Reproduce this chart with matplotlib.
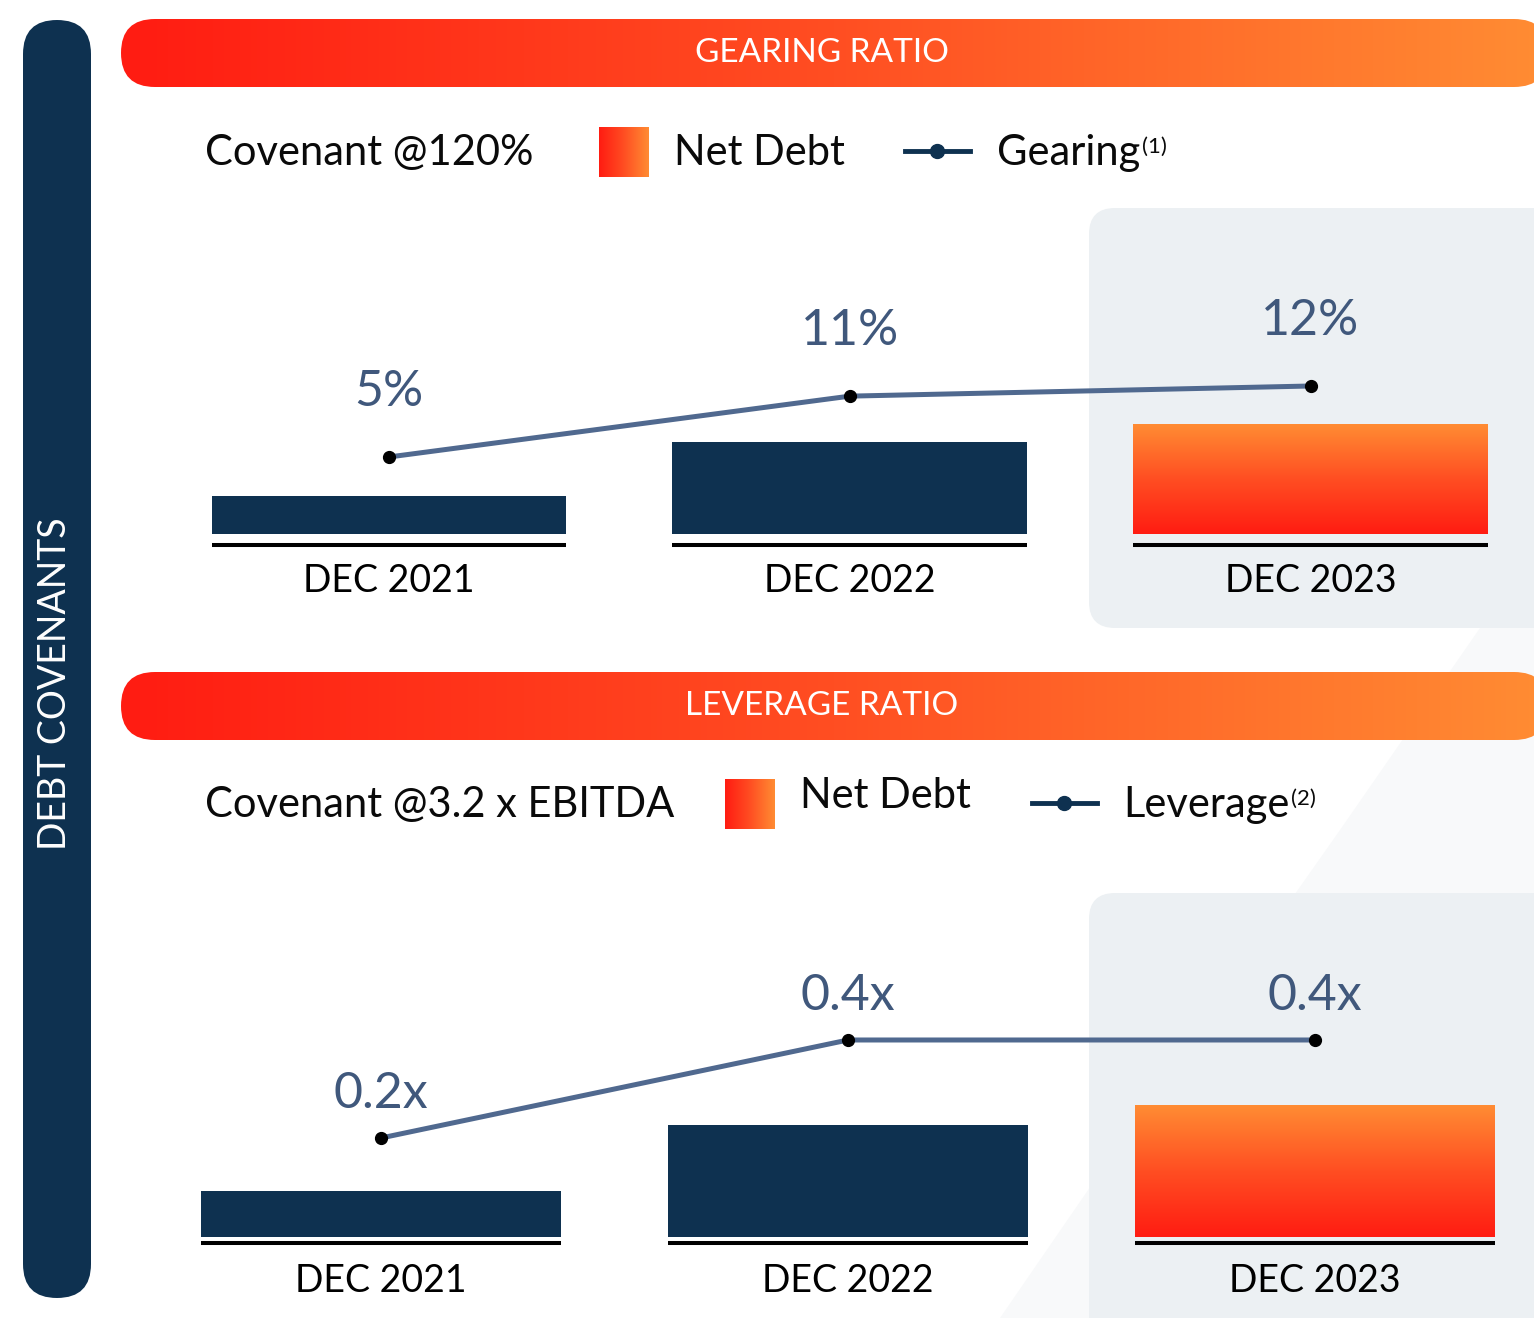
import numpy as np
import matplotlib
matplotlib.use('Agg')
import matplotlib.pyplot as plt
from matplotlib.patches import FancyBboxPatch, Rectangle, Polygon
from matplotlib.colors import LinearSegmentedColormap

plt.rcParams['font.family'] = ['Lato', 'DejaVu Sans']

# data
categories = ['DEC 2021', 'DEC 2022', 'DEC 2023']
gearing_pct = [5, 11, 12]
gearing_labels = ['5%', '11%', '12%']
gearing_net_debt = [38, 92, 110]      # relative bar heights (no scale given)
leverage_x = [0.2, 0.4, 0.4]
leverage_labels = ['0.2x', '0.4x', '0.4x']
leverage_net_debt = [46, 112, 132]    # relative bar heights

W, H = 1534, 1318
NAVY = '#0E3150'
LINE = '#50698F'
LABEL = '#40587C'
GREY = '#ECF0F3'
grad = LinearSegmentedColormap.from_list('grad', ['#FF1C12', '#FF4E22', '#FF8C33'])

fig = plt.figure(figsize=(W / 100, H / 100), dpi=100)
bg = fig.add_axes([0, 0, 1, 1])
bg.axis('off')


def px_axes(x0, y0, x1, y1):
    a = fig.add_axes([x0 / W, 1 - y1 / H, (x1 - x0) / W, (y1 - y0) / H])
    a.patch.set_alpha(0)
    a.axis('off')
    return a


def grad_fill(ax, patch, extent, vertical=False):
    g = np.linspace(0, 1, 256)
    img = g[::-1, None] if vertical else g[None, :]
    im = ax.imshow(img, cmap=grad, extent=extent, aspect='auto',
                   interpolation='bicubic', zorder=patch.get_zorder())
    im.set_clip_path(patch)


# faint background shape
bg.add_patch(Polygon([(1534, 550), (1340, 830), (1150, 1100), (1000, 1318), (1534, 1318)],
                     closed=True, fc='#F8F9FA', ec='none', zorder=0))

# left pill
bg.add_patch(FancyBboxPatch((23, 20), 68, 1278, boxstyle='round,pad=0,rounding_size=34',
                            fc=NAVY, ec='none', zorder=1))
bg.text(55, 684, 'DEBT COVENANTS', rotation=90, color='white', fontsize=27,
        ha='center', va='center', zorder=2)

# highlight panels for latest year
bg.add_patch(FancyBboxPatch((1089, 208), 480, 420, boxstyle='round,pad=0,rounding_size=26',
                            fc=GREY, ec='none', zorder=1))
bg.add_patch(FancyBboxPatch((1089, 893), 480, 460, boxstyle='round,pad=0,rounding_size=26',
                            fc=GREY, ec='none', zorder=1))

# banners
for y0, title in [(19, 'GEARING RATIO'), (672, 'LEVERAGE RATIO')]:
    p = FancyBboxPatch((121, y0), 1427, 68, boxstyle='round,pad=0,rounding_size=34',
                       fc='none', ec='none', zorder=2)
    bg.add_patch(p)
    grad_fill(bg, p, (121, 1548, y0 + 68, y0))
    bg.text(822, y0 + 34, title, color='white', fontsize=24, ha='center', va='center', zorder=3)

# legends
legend_rows = [
    (165, 'Covenant @120%', 599, 674, 'Net Debt', 165, 905, 997, 'Gearing', '(1)'),
    (817, 'Covenant @3.2 x EBITDA', 725, 800, 'Net Debt', 808, 1032, 1123, 'Leverage', '(2)'),
]
for base, cov, sq_x, nd_x, nd, nd_base, ln_x, lab_x, lab, sup in legend_rows:
    bg.text(205, base, cov, fontsize=30, color='#0A0A0A', va='baseline', zorder=3)
    sq_y = base - 38
    sq = Rectangle((sq_x, sq_y), 50, 50, fc='none', ec='none', zorder=3)
    bg.add_patch(sq)
    grad_fill(bg, sq, (sq_x, sq_x + 50, sq_y + 50, sq_y))
    bg.text(nd_x, nd_base, nd, fontsize=30, color='#0A0A0A', va='baseline', zorder=3)
    bg.plot([ln_x, ln_x + 65], [base - 14, base - 14], color=NAVY, lw=3.5, zorder=3)
    bg.plot([ln_x + 32], [base - 14], 'o', color=NAVY, ms=10, zorder=4)
    t = bg.text(lab_x, base, lab, fontsize=30, color='#0A0A0A', va='baseline', zorder=3)
    bg.annotate(sup, xy=(1, 1), xycoords=t, xytext=(2, -3), textcoords='offset pixels',
                fontsize=16, color='#0A0A0A', ha='left', va='top', zorder=3)

bg.set_xlim(0, W)
bg.set_ylim(H, 0)


def panel(centers, spacing, y_top, y_base, y_bot, bar_w, net_debt, vals, labels,
          line_lim, rule_off, cat_off, lab_off):
    x0 = centers - 0.6 * spacing
    ax = px_axes(x0, y_top, x0 + 3 * spacing, y_bot)
    ax.set_xlim(-0.6, 2.4)
    ax.set_ylim(-(y_bot - y_base), y_base - y_top)
    x = np.arange(len(categories))
    bars = ax.bar(x, net_debt, width=bar_w, color=NAVY, zorder=2)
    hb = bars[-1]
    hb.set_facecolor('none')
    grad_fill(ax, hb, (hb.get_x(), hb.get_x() + hb.get_width(), 0, hb.get_height()), vertical=True)
    ax.hlines([-rule_off] * len(x), x - bar_w / 2, x + bar_w / 2, color='black', lw=2.9, zorder=2)
    for i, c in enumerate(categories):
        ax.annotate(c, xy=(i, 0), xytext=(0, -cat_off), textcoords='offset pixels',
                    ha='center', va='baseline', fontsize=27, color='black')
    ax.set_xlim(-0.6, 2.4)
    ax.set_ylim(-(y_bot - y_base), y_base - y_top)

    lx = ax.twinx()
    lx.axis('off')
    lx.set_ylim(*line_lim)
    lx.plot(x, vals, color=LINE, lw=3.6, zorder=3)
    lx.plot(x, vals, 'o', color='black', ms=8.5, zorder=4)
    for i, (v, s) in enumerate(zip(vals, labels)):
        lx.annotate(s, xy=(i, v), xytext=(0, lab_off), textcoords='offset pixels',
                    ha='center', va='baseline', fontsize=36, color=LABEL)
    lx.set_xlim(-0.6, 2.4)


panel(389, 460.75, 200, 534, 594, 0.77, gearing_net_debt, gearing_pct, gearing_labels,
      (-8.51, 30.34), 11, 58, 51)
panel(381, 467, 880, 1237, 1300, 0.77, leverage_net_debt, leverage_x, leverage_labels,
      (-0.1306, 0.7265), 6, 55, 30)

fig.savefig('out.png', dpi=100)
